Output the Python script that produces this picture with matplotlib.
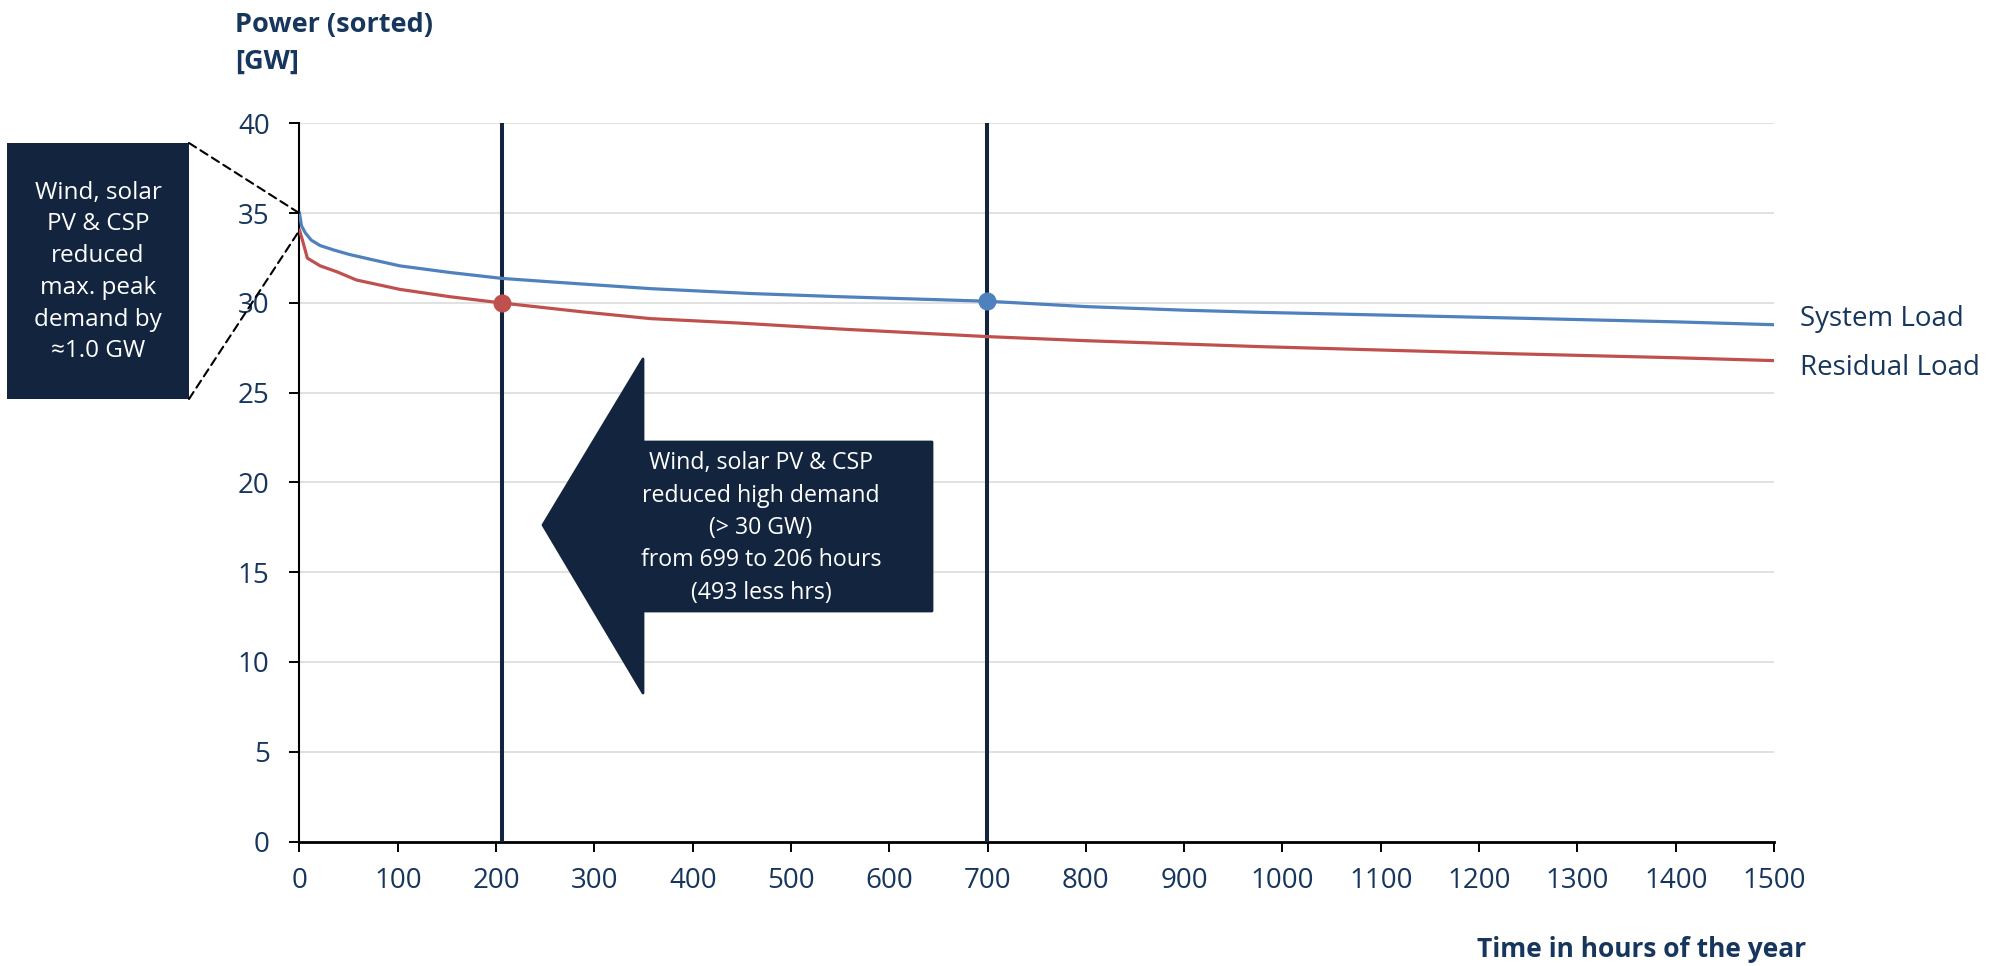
import matplotlib
matplotlib.use("Agg")
import matplotlib.pyplot as plt
from matplotlib.patches import Rectangle, Polygon, ConnectionPatch

# ---------------- data ----------------
hours_system = [0, 2, 6, 12, 21, 35, 51, 75, 102, 153, 206, 255, 357, 458, 550,
                699, 800, 900, 977, 1100, 1236, 1400, 1500]
system_load = [35.0, 34.3, 33.9, 33.5, 33.2, 32.95, 32.7, 32.4, 32.07, 31.7, 31.37,
               31.18, 30.8, 30.53, 30.35, 30.1, 29.8, 29.6, 29.48, 29.33, 29.16,
               28.95, 28.79]
hours_residual = [0, 3, 8, 21, 38, 58, 102, 153, 206, 289, 357, 448, 550, 699, 800,
                  977, 1100, 1236, 1400, 1500]
residual_load = [34.05, 33.5, 32.5, 32.07, 31.74, 31.28, 30.76, 30.35, 30.0, 29.5,
                 29.13, 28.88, 28.55, 28.13, 27.9, 27.57, 27.38, 27.17, 26.95, 26.79]
series_labels = ["System Load", "Residual Load"]
marker_residual = (206, 30.0)
marker_system = (699, 30.1)
vlines_hours = [206, 699]
x_ticks = list(range(0, 1501, 100))
y_ticks = list(range(0, 41, 5))
box_text = "Wind, solar\nPV & CSP\nreduced\nmax. peak\ndemand by\n≈1.0 GW"
arrow_text = ("Wind, solar PV & CSP\nreduced high demand\n(> 30 GW)\n"
              "from 699 to 206 hours\n(493 less hrs)")

# ---------------- style ----------------
NAVY_TXT = "#17365D"
NAVY_BOX = "#13243F"
BLUE = "#4F81BD"
RED = "#C0504D"
GRID = "#D9D9D9"
FONT = ["Open Sans", "DejaVu Sans"]
plt.rcParams["font.family"] = FONT

W, H = 1999, 966
fig = plt.figure(figsize=(W / 100, H / 100), dpi=100)
ax = fig.add_axes([299.5 / W, 1 - 841.5 / H, (1774 - 299.5) / W, (841.5 - 123.5) / H])

ax.set_xlim(0, 1500)
ax.set_ylim(0, 40)
ax.set_xticks(x_ticks)
ax.set_yticks(y_ticks)
ax.yaxis.grid(True, color=GRID, lw=1.1, zorder=0)
ax.set_axisbelow(True)
for s in ["top", "right"]:
    ax.spines[s].set_visible(False)
ax.spines["left"].set_linewidth(1.5)
ax.spines["bottom"].set_linewidth(2.0)
ax.tick_params(axis="both", direction="out", length=7.5, width=1.4,
               labelsize=20, labelcolor=NAVY_TXT, color="black")
ax.tick_params(axis="y", pad=14)
ax.tick_params(axis="x", pad=11)

# vertical lines
for h in vlines_hours:
    ax.axvline(h, color=NAVY_BOX, lw=2.9, zorder=3)

# curves
ax.plot(hours_system, system_load, color=BLUE, lw=2.3, zorder=4)
ax.plot(hours_residual, residual_load, color=RED, lw=2.3, zorder=4)
ax.plot(*marker_residual, "o", color=RED, ms=12, zorder=5)
ax.plot(*marker_system, "o", color=BLUE, ms=12, zorder=5)

# series labels
ax.annotate(series_labels[0], xy=(hours_system[-1], system_load[-1]),
            xytext=(19, 4), textcoords="offset points", va="center", ha="left",
            fontsize=20, color=NAVY_TXT, annotation_clip=False)
ax.annotate(series_labels[1], xy=(hours_residual[-1], residual_load[-1]),
            xytext=(19, -5), textcoords="offset points", va="center", ha="left",
            fontsize=20, color=NAVY_TXT, annotation_clip=False)

# axis titles
fig.text(235 / W, 1 - 32 / H, "Power (sorted)", fontsize=19.5, fontweight="bold",
         color=NAVY_TXT, ha="left", va="baseline")
fig.text(235 / W, 1 - 69 / H, "[GW]", fontsize=19.5, fontweight="bold",
         color=NAVY_TXT, ha="left", va="baseline")
fig.text(1806 / W, 1 - 957 / H, "Time in hours of the year", fontsize=19,
         fontweight="bold", color=NAVY_TXT, ha="right", va="baseline")

# left annotation box
bx0, bx1, by0, by1 = 7 / W, 189 / W, 1 - 399 / H, 1 - 143 / H
fig.patches.append(Rectangle((bx0, by0), bx1 - bx0, by1 - by0,
                             transform=fig.transFigure, facecolor=NAVY_BOX,
                             edgecolor="none", zorder=1))
fig.text((bx0 + bx1) / 2, 1 - 272 / H, box_text, ha="center", va="center",
         color="white", fontsize=17.5, linespacing=1.43, zorder=2)
for (fy, target) in [(by1, (0, system_load[0])), (by0, (0, residual_load[0]))]:
    cp = ConnectionPatch(xyA=(bx1, fy), coordsA=fig.transFigure,
                         xyB=target, coordsB=ax.transData,
                         color="black", lw=1.5, linestyle=(0, (4, 2.5)), zorder=6)
    fig.add_artist(cp)

# big left arrow (data coordinates)
def px2d(px, py):
    return ((px - 299.5) / 0.983, (841.5 - py) / 17.95)

arrow_pts = [px2d(543, 525), px2d(643, 359), px2d(643, 442), px2d(932, 442),
             px2d(932, 611), px2d(643, 611), px2d(643, 693)]
ax.add_patch(Polygon(arrow_pts, closed=True, facecolor=NAVY_BOX, edgecolor=NAVY_BOX,
                     lw=2, joinstyle="round", zorder=6, clip_on=False))
tx, ty = px2d(761, 528)
ax.text(tx, ty, arrow_text, ha="center", va="center", color="white",
        fontsize=16.7, linespacing=1.46, zorder=7)

fig.savefig("out.png", dpi=100)
